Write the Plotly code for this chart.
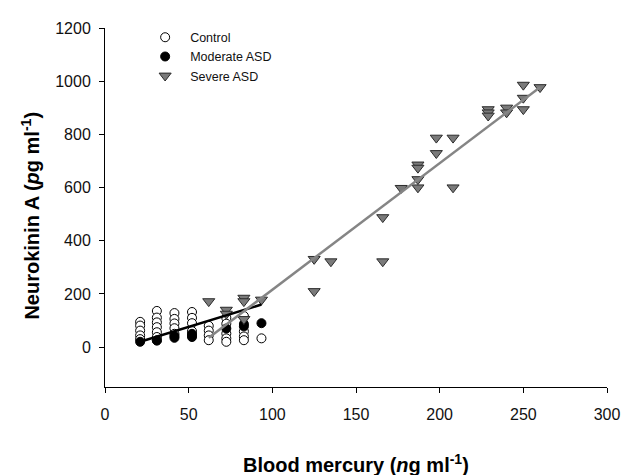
import plotly.graph_objects as go

# Control (open circles)
control_x = [21]*5 + [31]*7 + [41.5]*5 + [52]*5 + [62]*4 + [72.5]*5 + [83]*4 + [93.5]
control_y = [95, 81, 62, 44, 30,
             136, 111, 93, 75, 56, 38, 25,
             128, 106, 89, 71, 50,
             132, 110, 90, 60, 45,
             80, 62, 44, 26,
             110, 88, 51, 33, 20,
             117, 59, 40, 26,
             33]

# Moderate ASD (filled circles)
moderate_x = [21, 31, 41.5, 41.5, 52, 52, 72.5, 83, 83, 93.5]
moderate_y = [20, 25, 35, 42, 38, 50, 70, 78, 87, 90]

# Severe ASD (grey triangles)
severe_x = [62, 72.5, 72.5, 83, 83, 83, 93.5, 125, 125, 135, 166, 166, 177,
            187, 187, 187, 187, 198, 198, 208, 208, 229, 229, 229, 240, 240,
            250, 250, 250, 260]
severe_y = [172, 140, 125, 185, 172, 105, 178, 331, 210, 322, 322, 488, 598,
            686, 674, 631, 600, 787, 729, 787, 600, 894, 882, 870, 900, 882,
            986, 937, 894, 977]

# Regression lines
moderate_fit_x = [21, 93.5]
moderate_fit_y = [20, 160]
severe_fit_x = [62, 260]
severe_fit_y = [35, 977]

x_ticks = [0, 50, 100, 150, 200, 250, 300]
y_ticks = [0, 200, 400, 600, 800, 1000, 1200]

fig = go.Figure()
fig.add_trace(go.Scatter(x=control_x, y=control_y, mode="markers", name="Control",
                         marker=dict(symbol="circle", size=9, color="white",
                                     line=dict(color="black", width=1))))
fig.add_trace(go.Scatter(x=moderate_x, y=moderate_y, mode="markers", name="Moderate ASD",
                         marker=dict(symbol="circle", size=9, color="black",
                                     line=dict(color="black", width=1))))
fig.add_trace(go.Scatter(x=severe_x, y=severe_y, mode="markers", name="Severe ASD",
                         marker=dict(symbol="triangle-down", size=10.5, color="#7a7a7a",
                                     line=dict(color="#2a2a2a", width=1))))
fig.add_trace(go.Scatter(x=moderate_fit_x, y=moderate_fit_y, mode="lines", showlegend=False,
                         line=dict(color="black", width=2.5)))
fig.add_trace(go.Scatter(x=severe_fit_x, y=severe_fit_y, mode="lines", showlegend=False,
                         line=dict(color="#858585", width=2.5)))

axis_common = dict(showgrid=False, zeroline=False, showline=True, linecolor="black",
                   linewidth=1, ticks="outside", ticklen=5, tickcolor="black",
                   tickfont=dict(family="Liberation Sans, Arial", size=16, color="#111"))

fig.update_layout(
    width=644, height=475,
    margin=dict(l=97, r=45, t=12, b=96),
    plot_bgcolor="white", paper_bgcolor="white",
    xaxis=dict(range=[0, 300], tickvals=x_ticks, ticklabelstandoff=8, **axis_common),
    yaxis=dict(range=[-150, 1200], tickvals=y_ticks, ticklabelstandoff=5, **axis_common),
    legend=dict(x=0.07, y=1.015, xanchor="left", yanchor="top",
                bgcolor="rgba(0,0,0,0)", tracegroupgap=0, itemwidth=40,
                font=dict(family="Liberation Sans, Arial", size=12.5, color="#111")),
    annotations=[
        dict(text="<b>Blood mercury (<i>n</i>g ml<sup>-1</sup>)</b>", xref="paper", yref="paper",
             x=0.5, y=-0.2125, xanchor="center", yanchor="middle", showarrow=False,
             font=dict(family="Liberation Sans, Arial", size=20, color="black")),
        dict(text="<b>Neurokinin A (<i>p</i>g ml<sup>-1</sup>)</b>", xref="paper", yref="paper",
             x=-0.149, y=0.478, xanchor="center", yanchor="middle", textangle=-90, showarrow=False,
             font=dict(family="Liberation Sans, Arial", size=20, color="black")),
    ],
)

fig.write_html("out.html")
